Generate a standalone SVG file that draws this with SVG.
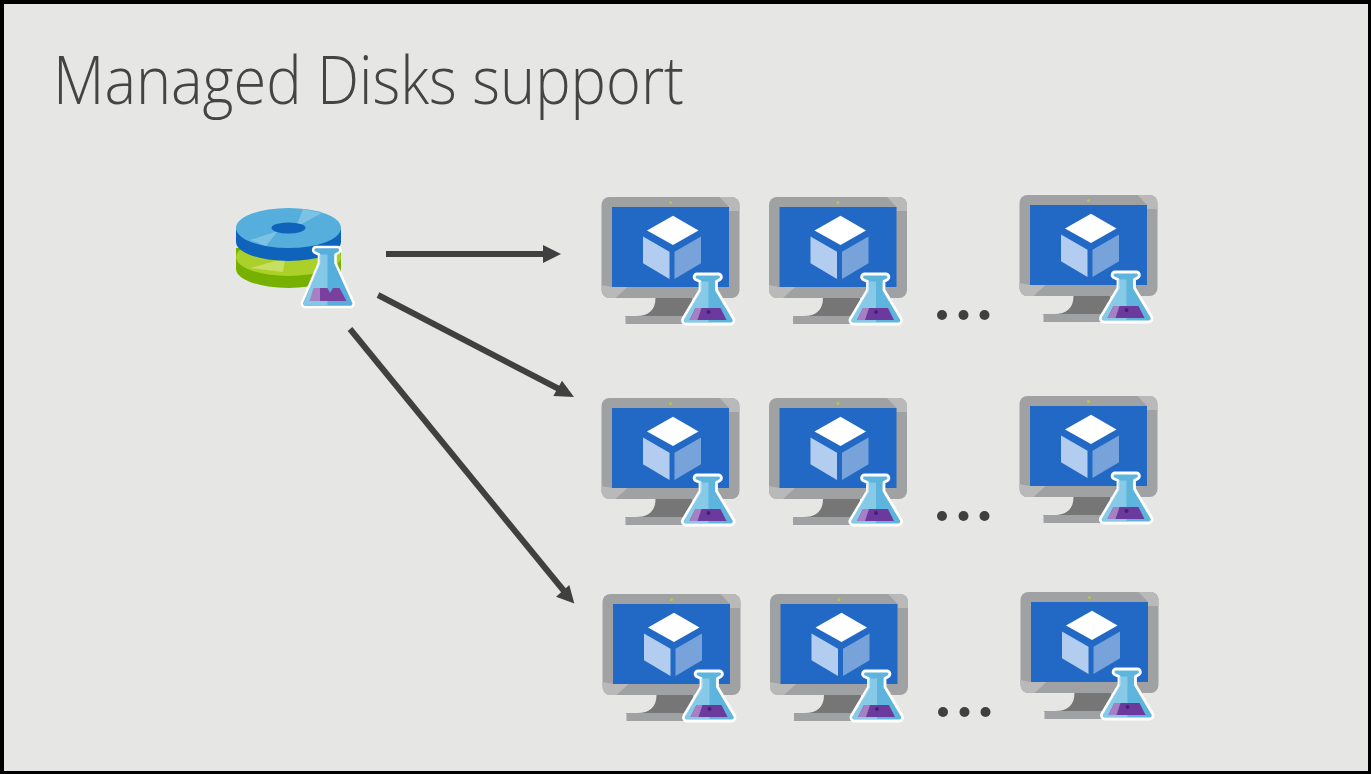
<svg xmlns="http://www.w3.org/2000/svg" width="1371" height="774" viewBox="0 0 1371 774">
<style>
.title{font-family:"Open Sans","Noto Sans","Liberation Sans",sans-serif;font-weight:300;font-size:67px;fill:#444}
.conn{stroke:#404040;stroke-width:6;fill:none}
.head{fill:#404040}
.dot{fill:#404040}
</style>
<defs>
<symbol id="flask" overflow="visible">
<path d="M14.500 3H36a3 3 0 0 1 1.500 5.500L34 10.500V19L51 47.500a3.500 3.500 0 0 1-3 5.500H3.500a3.500 3.500 0 0 1-3-5.500L17.500 19V10.500L13 8.500A3 3 0 0 1 14.500 3z" fill="#5db4dc" stroke="#fff" stroke-width="2.800" stroke-linejoin="round"/>
<path d="M17.500 10.500H26V51H3.500a2 2 0 0 1-1.700-3L17.500 20z" fill="#a4d8ee" opacity=".6"/>
<path d="M13 37H38L44 49H7z" fill="#6b3a9c"/>
<path d="M13 37H19L15 49H7z" fill="#a77fc4"/>
<circle cx="26" cy="41" r="2" fill="#45207a"/>
</symbol>
<symbol id="pc" overflow="visible">
<path d="M8 0H130a8 8 0 0 1 8 8V93a8 8 0 0 1-8 8H8a8 8 0 0 1-8-8V8a8 8 0 0 1 8-8z" fill="#a0a1a2"/>
<path d="M118 0H130a8 8 0 0 1 8 8V14H127.500V10z" fill="#b9b9b9"/>
<path d="M0 88V93a8 8 0 0 0 8 8H14L26 90H10.500z" fill="#b9b9b9"/>
<path d="M54 101h37v19H24v-1h11c12 0 19-6 19-18z" fill="#767676"/>
<rect x="24" y="119" width="66" height="8" fill="#a0a1a2"/>
<rect x="10.500" y="10" width="117" height="80" fill="#2169c4"/>
<circle cx="69" cy="5.500" r="1.500" fill="#b5c84a"/>
<path d="M45.500 33.500L71.500 18.700 97 33.500 71.500 48z" fill="#fff"/>
<path d="M41.500 39.500L68 54.700V82L41.500 66.300z" fill="#b3cdf0"/>
<path d="M73 54.700L99.500 39.500V66.300L73 82z" fill="#77a3da"/>
<use href="#flask" x="81" y="74"/>
</symbol>
</defs>
<rect width="1371" height="774" fill="#000"/>
<rect x="4" y="4" width="1364" height="767" fill="#e6e6e4"/>
<text class="title" x="53" y="104" textLength="631" lengthAdjust="spacingAndGlyphs">Managed Disks support</text>
<g id="connectors">
<path class="conn" d="M386 254H546"/><path class="head" d="M543 245L561 254 543 263z"/>
<path class="conn" d="M378 295L559 389"/><path class="head" d="M562 380.700L574 397 553.300 396z"/>
<path class="conn" d="M350 329L564 591"/><path class="head" d="M569.300 585L574.300 603.500 556 596.700z"/>
</g>
<g id="disk">
<ellipse cx="288.500" cy="269" rx="52.500" ry="19" fill="#76b000"/>
<path d="M236 248h105v21H236z" fill="#76b000"/>
<ellipse cx="288.500" cy="257" rx="52.500" ry="19" fill="#abd02a"/>
<path d="M250 268L282 259H285L283 272z" fill="#c8e060"/>
<ellipse cx="288.500" cy="242" rx="52.500" ry="19" fill="#0f63bb"/>
<path d="M236 228h105v14H236z" fill="#0f63bb"/>
<ellipse cx="288.500" cy="228" rx="52.500" ry="20" fill="#55aedb"/>
<path d="M296 227L303 209 322 213z" fill="#7cc2e4"/>
<path d="M278 231L250 240 266 246z" fill="#7cc2e4"/>
<ellipse cx="288.500" cy="228" rx="17" ry="5.500" fill="#0f63bb"/>
<g transform="translate(301.500 244)">
<path d="M14.500 3H36a3 3 0 0 1 1.500 5.500L34 10.500V19L52 58.500a3.500 3.500 0 0 1-3 4.500H3.500a3.500 3.500 0 0 1-3-4.500L17.500 19V10.500L13 8.500A3 3 0 0 1 14.500 3z" fill="#55aedb" stroke="#fff" stroke-width="2.500" stroke-linejoin="round"/>
<path d="M17.500 10.500H26V61H3.500a1.500 1.500 0 0 1-1.400-2L17.500 20z" fill="#a4d8ee" opacity=".6"/>
<path d="M12 44H18.500V57H8z" fill="#a77fc4"/>
<path d="M18.500 44H26l2.500 5 3-5H38l7 13H18.500z" fill="#7b3f9e"/>
</g>
</g>
<g id="vm-1-1"><use href="#pc" x="601.500" y="197"/></g>
<g id="vm-1-2"><use href="#pc" x="769" y="197"/></g>
<g id="vm-1-3"><use href="#pc" x="1019.500" y="195"/></g>
<g id="vm-2-1"><use href="#pc" x="601.500" y="398"/></g>
<g id="vm-2-2"><use href="#pc" x="769" y="398"/></g>
<g id="vm-2-3"><use href="#pc" x="1019.500" y="396"/></g>
<g id="vm-3-1"><use href="#pc" x="602.500" y="594"/></g>
<g id="vm-3-2"><use href="#pc" x="770" y="594"/></g>
<g id="vm-3-3"><use href="#pc" x="1020.500" y="592"/></g>
<g id="ellipsis-1"><circle class="dot" cx="942" cy="315" r="5"/><circle class="dot" cx="963.500" cy="315" r="5"/><circle class="dot" cx="984.500" cy="315" r="5"/></g>
<g id="ellipsis-2"><circle class="dot" cx="942" cy="516" r="5"/><circle class="dot" cx="963.500" cy="516" r="5"/><circle class="dot" cx="984.500" cy="516" r="5"/></g>
<g id="ellipsis-3"><circle class="dot" cx="943" cy="712" r="5"/><circle class="dot" cx="964.500" cy="712" r="5"/><circle class="dot" cx="985.500" cy="712" r="5"/></g>
</svg>
